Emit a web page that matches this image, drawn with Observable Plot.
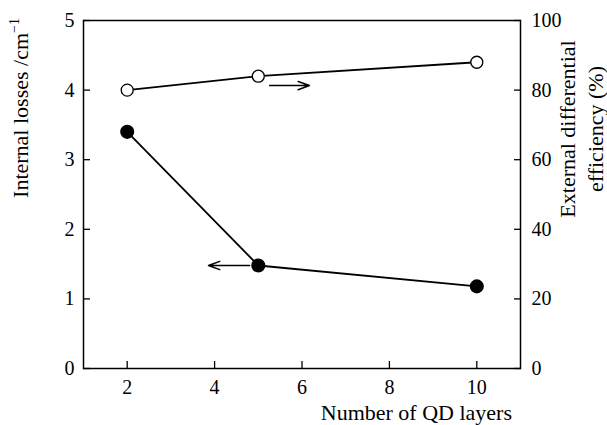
<!DOCTYPE html>
<html><head><meta charset="utf-8">
<script src="https://cdn.jsdelivr.net/npm/d3@7"></script>
<script src="https://cdn.jsdelivr.net/npm/@observablehq/plot@0.6"></script>
<style>
body{margin:0;background:#fff;font-family:'Liberation Serif',serif}
</style>
</head><body><div id="chart"></div>
<script>
// Data
const layers = [2, 5, 10];
const losses = [3.4, 1.48, 1.18];          // Internal losses, cm^-1 (left axis)
const efficiency = [80, 84, 88];           // External differential efficiency, % (right axis)
const xTicks = [2, 4, 6, 8, 10];
const leftTicks = [0, 1, 2, 3, 4, 5];
const rightTicks = [0, 20, 40, 60, 80, 100];
const rightPerLeft = 20;                   // 100 % on right == 5 on left
// annotation arrows: [losses arrow (left axis), efficiency arrow (right axis)]
const arrowFromX = [4.8, 5.26];
const arrowToX = [3.86, 6.17];
const arrowLevel = [1.48, 81.3];
const arrowAxis = ["left", "right"];

const FONT = "'Liberation Serif'";

const lossData = layers.map((x, i) => ({x, y: losses[i]}));
const effData = layers.map((x, i) => ({x, y: efficiency[i] / rightPerLeft}));
const arrows = arrowFromX.map((x1, i) => ({
  x1, x2: arrowToX[i],
  y: arrowAxis[i] === "right" ? arrowLevel[i] / rightPerLeft : arrowLevel[i]
}));

const T = 7; // inward tick length
const chart = Plot.plot({
  width: 607, height: 425,
  marginLeft: 83, marginRight: 87, marginTop: 20, marginBottom: 57,
  style: {fontFamily: FONT, fontSize: "20px", color: "#000", background: "#fff"},
  x: {domain: [1, 11]},
  y: {domain: [0, 5]},
  marks: [
    Plot.frame({stroke: "#000", strokeWidth: 1.5}),
    Plot.axisX({ticks: xTicks, tickFormat: "d", tickSize: T, dy: -T, tickPadding: 11, label: null, fontSize: 20, strokeWidth: 1.3}),
    Plot.axisY({ticks: leftTicks, tickFormat: "d", tickSize: T, dx: T, tickPadding: 9, label: null, fontSize: 20, strokeWidth: 1.3}),
    Plot.axisY({anchor: "right", ticks: rightTicks.map(v => v / rightPerLeft), tickFormat: d => Math.round(d * rightPerLeft),
      tickSize: T, dx: -T, tickPadding: 11, label: null, fontSize: 20, strokeWidth: 1.3}),
    Plot.line(lossData, {x: "x", y: "y", stroke: "#000", strokeWidth: 1.8}),
    Plot.line(effData, {x: "x", y: "y", stroke: "#000", strokeWidth: 1.8}),
    Plot.dot(lossData, {x: "x", y: "y", r: 6.3, fill: "#000", stroke: "#000"}),
    Plot.dot(effData, {x: "x", y: "y", r: 6, fill: "#fff", stroke: "#000", strokeWidth: 1.3}),
    Plot.arrow(arrows, {x1: "x1", x2: "x2", y1: "y", y2: "y", stroke: "#000", strokeWidth: 1.5, headLength: 12, headAngle: 40})
  ]
});
document.getElementById("chart").append(chart);

const svg = d3.select(chart);
// Left y label
const lt = svg.append("text")
  .attr("transform", "translate(28,108) rotate(-90)")
  .attr("text-anchor", "middle")
  .attr("font-size", 22).attr("fill", "#000");
lt.append("tspan").text("Internal losses /cm");
lt.append("tspan").attr("dy", -9).attr("font-size", 14).text("\u22121");
// Right y label
const rt = svg.append("text")
  .attr("transform", "translate(575,129) rotate(-90)")
  .attr("text-anchor", "middle")
  .attr("font-size", 22).attr("fill", "#000");
rt.append("tspan").attr("x", 0).attr("y", 0).text("External differential");
rt.append("tspan").attr("x", 0).attr("y", 28).text("efficiency (%)");
// X label
svg.append("text")
  .attr("x", 512).attr("y", 420)
  .attr("text-anchor", "end")
  .attr("font-size", 22).attr("fill", "#000")
  .text("Number of QD layers");
svg.attr("font-family", "Liberation Serif");
svg.selectAll("text").attr("font-family", "Liberation Serif").style("font-family", "'Liberation Serif'");
</script>
</body></html>
